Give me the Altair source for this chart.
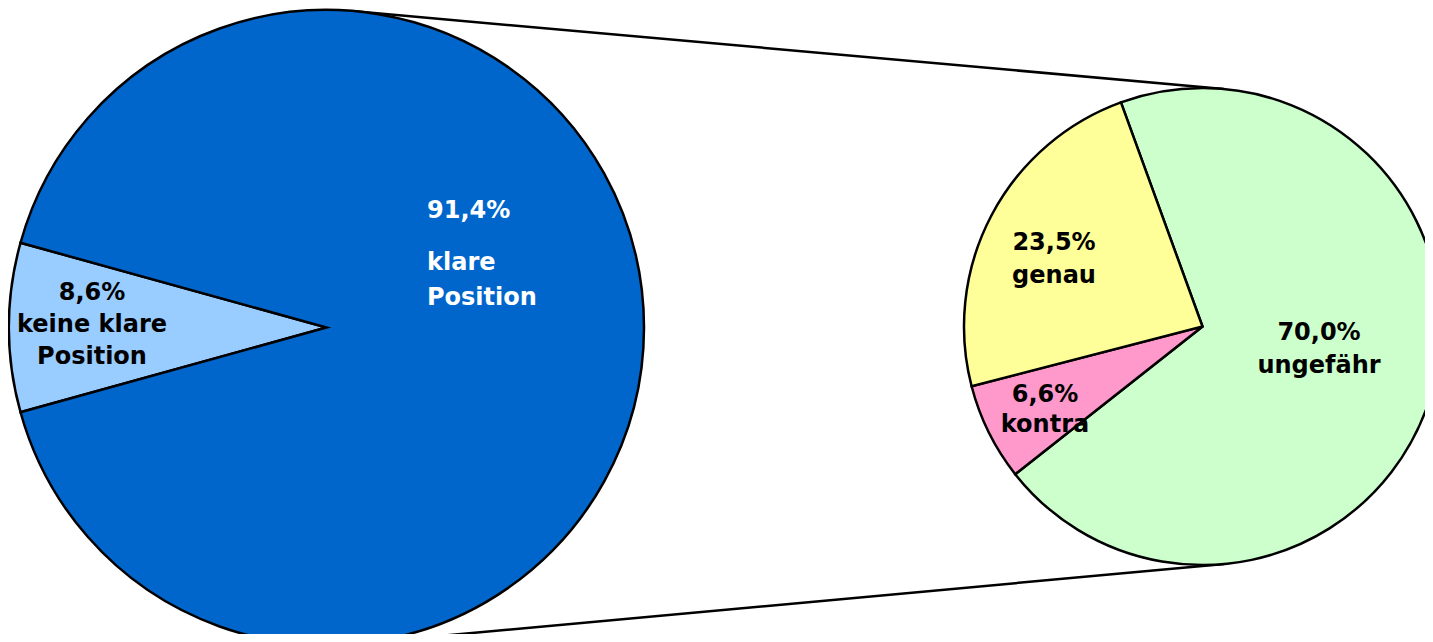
import math
import altair as alt
import pandas as pd

# ---- data ----
left_categories = ["keine klare Position", "klare Position"]
left_values = [8.6, 91.4]
left_colors = ["#99CCFF", "#0066CC"]

right_categories = ["ungefähr", "kontra", "genau"]
right_values = [70.0, 6.6, 23.5]
right_colors = ["#CCFFCC", "#FF99CC", "#FFFF99"]

# ---- layout (pixels in chart space) ----
W, H = 1417, 626
L_CX, L_CY, L_R = 318.5, 319.5, 317.5
R_CX, R_CY, R_R = 1194.5, 318.5, 238.5
L_START = math.radians(270 - left_values[0] * 3.6 / 2)
R_START = math.radians(340)
FONT = "DejaVu Sans"
FS = 24
SW = 2.5


def fmt(v):
    return f"{v:.1f}%".replace(".", ",")


left_df = pd.DataFrame({"cat": left_categories, "val": left_values,
                        "idx": range(len(left_values))})
right_df = pd.DataFrame({"cat": right_categories, "val": right_values,
                         "idx": range(len(right_values))})

# external tangents between the two circles (connector lines)
dx, dy = R_CX - L_CX, R_CY - L_CY
dist = math.hypot(dx, dy)
base = math.atan2(dy, dx)
a = math.acos((L_R - R_R) / dist)
rows = []
for sgn in (-1, 1):
    ang = base + sgn * a
    nx, ny = math.cos(ang), math.sin(ang)
    rows.append({"x": L_CX + L_R * nx, "y": L_CY + L_R * ny,
                 "x2": R_CX + R_R * nx, "y2": R_CY + R_R * ny})
lines_df = pd.DataFrame(rows)

lines = alt.Chart(lines_df).mark_rule(color="black", strokeWidth=SW).encode(
    x=alt.X("x:Q", scale=None), y=alt.Y("y:Q", scale=None),
    x2="x2:Q", y2="y2:Q")

left_pie = alt.Chart(left_df).mark_arc(
    radius=L_R, stroke="black", strokeWidth=SW).encode(
    theta=alt.Theta("val:Q", stack=True,
                    scale=alt.Scale(domain=[0, sum(left_values)],
                                    range=[L_START, L_START + 2 * math.pi])),
    color=alt.Color("cat:N", scale=alt.Scale(domain=left_categories, range=left_colors),
                    legend=None),
    order=alt.Order("idx:Q"),
    x=alt.value(L_CX), y=alt.value(L_CY))

right_pie = alt.Chart(right_df).mark_arc(
    radius=R_R, stroke="black", strokeWidth=SW).encode(
    theta=alt.Theta("val:Q", stack=True,
                    scale=alt.Scale(domain=[0, sum(right_values)],
                                    range=[R_START, R_START + 2 * math.pi])),
    color=alt.Color("cat:N", scale=alt.Scale(domain=right_categories, range=right_colors),
                    legend=None),
    order=alt.Order("idx:Q"),
    x=alt.value(R_CX), y=alt.value(R_CY))


def label(text, x, y, lh, color="black", align="center"):
    return alt.Chart(alt.Data(values=[{}])).mark_text(
        font=FONT, fontSize=FS, fontWeight="bold", color=color, align=align,
        baseline="alphabetic", lineBreak="\n", lineHeight=lh).encode(
        text=alt.value(text), x=alt.value(x), y=alt.value(y))


labels = [
    label(fmt(left_values[0]) + "\nkeine klare\nPosition", 84, 292, 32),
    label(fmt(left_values[1]), 419, 210, 35, color="white", align="left"),
    label("klare\nPosition", 419, 262, 35, color="white", align="left"),
    label(fmt(right_values[2]) + "\n" + right_categories[2], 1046, 242, 33),
    label(fmt(right_values[1]) + "\n" + right_categories[1], 1037, 394, 30),
    label(fmt(right_values[0]) + "\n" + right_categories[0], 1311, 332, 33),
]

chart = alt.layer(lines, left_pie, right_pie, *labels).resolve_scale(
    theta="independent", color="independent"
).properties(
    width=W, height=H, autosize=alt.AutoSizeParams(type="none"), padding=0
).configure_view(stroke=None)

chart.save("out.html", embed_options={"renderer": "svg", "actions": False})
